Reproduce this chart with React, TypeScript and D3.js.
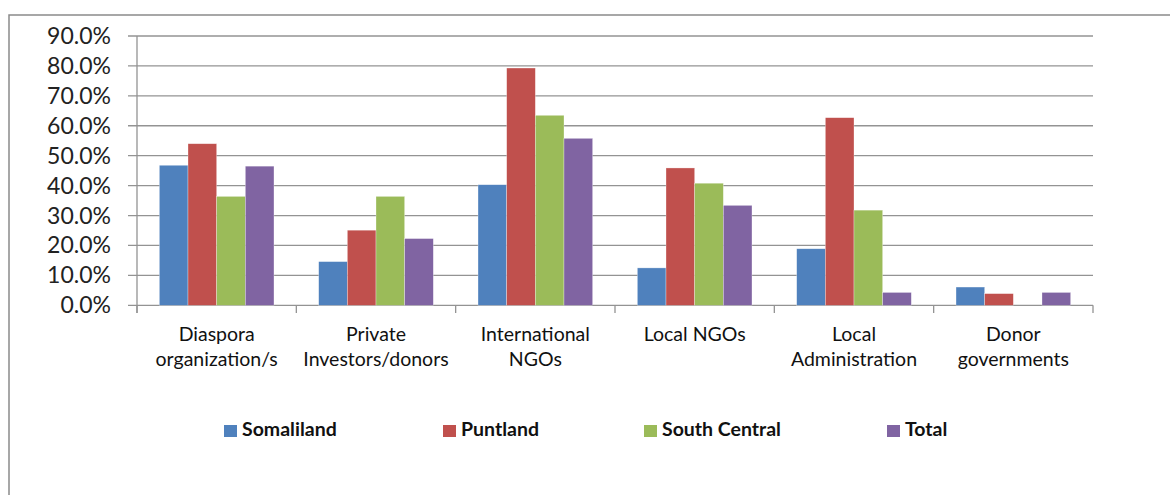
import React from "react";
import * as d3 from "d3";

const categories: string[][] = [
  ["Diaspora", "organization/s"],
  ["Private", "Investors/donors"],
  ["International", "NGOs"],
  ["Local NGOs"],
  ["Local", "Administration"],
  ["Donor", "governments"],
];
const seriesNames = ["Somaliland", "Puntland", "South Central", "Total"];
const somaliland = [46.8, 14.6, 40.3, 12.5, 18.9, 6.1];
const puntland = [54.0, 25.1, 79.3, 45.9, 62.7, 3.9];
const southCentral = [36.4, 36.4, 63.5, 40.8, 31.8, 0];
const total = [46.5, 22.3, 55.8, 33.4, 4.3, 4.3];
const yTicks = [0, 10, 20, 30, 40, 50, 60, 70, 80, 90];

const colors = ["#4F81BD", "#C0504D", "#9BBB59", "#8064A2"];
const seriesValues = [somaliland, puntland, southCentral, total];

const W = 1170;
const H = 495;
const FONT = "Lato, 'Open Sans', sans-serif";

export default function App() {
  const catKeys = categories.map((c) => c.join(" "));
  const x = d3.scaleBand<string>().domain(catKeys).range([137, 1093]).paddingInner(0).paddingOuter(0);
  const xs = d3
    .scaleBand<string>()
    .domain(seriesNames)
    .range([0, x.bandwidth()])
    .paddingInner(0)
    .paddingOuter(0.78);
  const y = d3.scaleLinear().domain([0, 90]).range([305.3, 36]);
  const fmt = (v: number) => v.toFixed(1) + "%";
  const legendX = [224, 443, 644, 887];
  const boundaries = catKeys.map((k) => x(k) as number).concat([1093]);

  return (
    <svg
      width={W}
      height={H}
      style={{ position: "absolute", left: 0, top: 0, background: "#fff" }}
    >
      <rect x={9} y={15} width={1300} height={600} fill="#fff" stroke="#8a8a8a" strokeWidth={1.5} />
      {yTicks.map((t) => (
        <g key={t}>
          <line x1={128} x2={1093} y1={y(t)} y2={y(t)} stroke="#939393" strokeWidth={1.3} />
          <text
            x={111}
            y={y(t) + 8}
            textAnchor="end"
            fontFamily={FONT}
            fontSize={23}
            fill="#222"
          >
            {fmt(t)}
          </text>
        </g>
      ))}
      <line x1={137} x2={137} y1={36} y2={313} stroke="#939393" strokeWidth={1.3} />
      {boundaries.map((b, i) => (
        <line key={i} x1={b} x2={b} y1={305.3} y2={313} stroke="#939393" strokeWidth={1.3} />
      ))}
      {seriesValues.map((vals, si) =>
        vals.map((v, ci) =>
          v > 0 ? (
            <rect
              key={`${si}-${ci}`}
              x={(x(catKeys[ci]) as number) + (xs(seriesNames[si]) as number)}
              y={y(v)}
              width={xs.bandwidth()}
              height={y(0) - y(v)}
              fill={colors[si]}
              stroke="#ffffff"
              strokeOpacity={0.5}
              strokeWidth={0.6}
            />
          ) : null
        )
      )}
      {categories.map((lines, ci) => (
        <text
          key={ci}
          x={(x(catKeys[ci]) as number) + x.bandwidth() / 2}
          textAnchor="middle"
          fontFamily={FONT}
          fontSize={19.5}
          fill="#111"
        >
          {lines.map((l, li) => (
            <tspan key={li} x={(x(catKeys[ci]) as number) + x.bandwidth() / 2} y={341 + li * 24.5}>
              {l}
            </tspan>
          ))}
        </text>
      ))}
      {seriesNames.map((s, si) => (
        <g key={s}>
          <rect x={legendX[si]} y={425} width={13} height={12} fill={colors[si]} />
          <text
            x={legendX[si] + 18}
            y={436}
            fontFamily={FONT}
            fontWeight="bold"
            fontSize={19.5}
            fill="#111"
          >
            {s}
          </text>
        </g>
      ))}
    </svg>
  );
}
